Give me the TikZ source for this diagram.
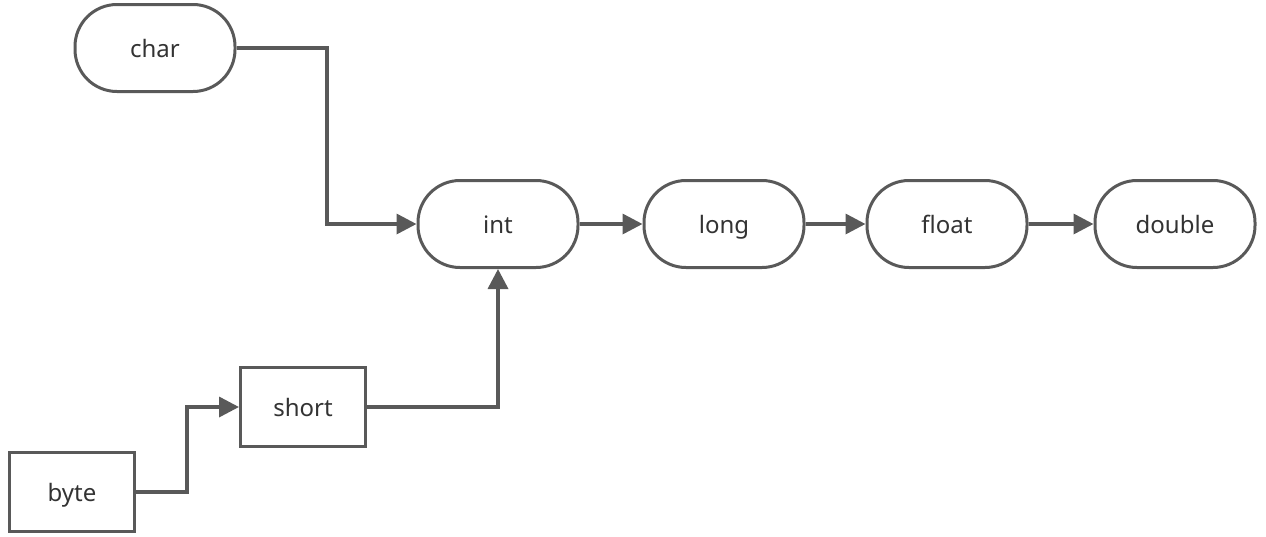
\documentclass[tikz,border=0pt]{standalone}
\usepackage{fontspec}
\setmainfont{Noto Sans}
\usetikzlibrary{arrows.meta}
\definecolor{ln}{HTML}{595959}
\definecolor{tx}{HTML}{333333}
\begin{document}
\begin{tikzpicture}[x=1pt,y=-1pt,
  lbl/.style={inner sep=0pt,font=\fontsize{24}{28}\selectfont,text=tx,text height=22pt,text depth=4pt},
  pill/.style={lbl,draw=ln,line width=3pt,rounded corners=42pt,minimum width=160pt,minimum height=87pt},
  sqbox/.style={lbl,draw=ln,line width=3pt,minimum width=125pt,minimum height=79pt},
  conn/.style={draw=ln,line width=3.5pt,-{Triangle[length=20pt,width=20pt]}}]
\useasboundingbox (0,0) rectangle (1266,536);
\node[pill] (char) at (155,48) {char};
\node[pill] (int) at (498,224) {int};
\node[pill] (long) at (724,224) {long};
\node[pill] (float) at (947,224) {float};
\node[pill] (double) at (1175,224) {double};
\node[sqbox] (short) at (303,407) {short};
\node[sqbox] (byte) at (72,492) {byte};
\draw[conn] (char.east) -- (327,48) |- (int.west);
\draw[conn] (short.east) -| (int.south);
\draw[conn] (byte.east) -- (187,492) |- (short.west);
\draw[conn] (int) -- (long);
\draw[conn] (long) -- (float);
\draw[conn] (float) -- (double);
\end{tikzpicture}
\end{document}
